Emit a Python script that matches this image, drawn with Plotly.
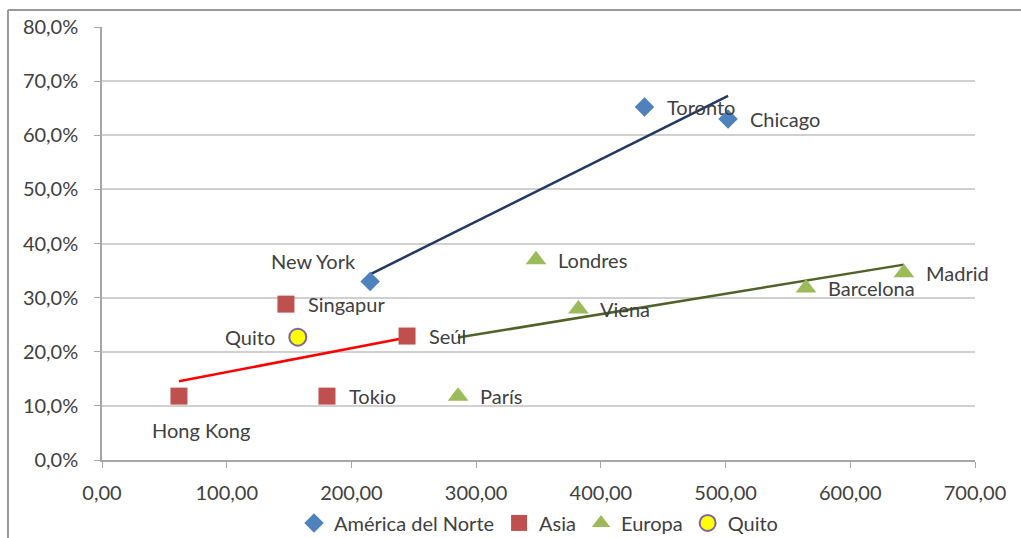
import numpy as np
import plotly.graph_objects as go

# ---- data ----
na_cities = ["New York", "Toronto", "Chicago"]
na_x = [215, 435, 502]
na_y = [0.33, 0.652, 0.63]

asia_cities = ["Hong Kong", "Singapur", "Tokio", "Seúl"]
asia_x = [61.7, 147.5, 180.4, 244.6]
asia_y = [0.118, 0.288, 0.118, 0.229]

eu_cities = ["París", "Londres", "Viena", "Barcelona", "Madrid"]
eu_x = [285.5, 348, 382, 564.5, 643]
eu_y = [0.118, 0.37, 0.279, 0.318, 0.346]

quito_city = ["Quito"]
quito_x = [157]
quito_y = [0.227]

x_ticks = [0, 100, 200, 300, 400, 500, 600, 700]
y_ticks = [0, 0.1, 0.2, 0.3, 0.4, 0.5, 0.6, 0.7, 0.8]

FONT = "Lato"
FS = 20
TXT = dict(family=FONT, size=FS, color="#404040")

fig = go.Figure()


def trend(xs, ys, color, width):
    m, b = np.polyfit(xs, ys, 1)
    xx = [min(xs), max(xs)]
    fig.add_trace(go.Scatter(x=xx, y=[m * v + b for v in xx], mode="lines",
                             line=dict(color=color, width=width),
                             showlegend=False, hoverinfo="skip"))


trend(na_x, na_y, "#1F3864", 2.5)
trend(asia_x, asia_y, "#FF0000", 2.5)
trend(eu_x, eu_y, "#4F6228", 2.5)

fig.add_trace(go.Scatter(
    x=na_x, y=na_y, mode="markers", name="América del Norte",
    marker=dict(symbol="diamond", size=15, color="#4F81BD")))
fig.add_trace(go.Scatter(
    x=asia_x, y=asia_y, mode="markers", name="Asia",
    marker=dict(symbol="square", size=17, color="#C0504D")))
fig.add_trace(go.Scatter(
    x=eu_x, y=eu_y, mode="markers", name="Europa",
    marker=dict(symbol="triangle-up", size=18, color="#9BBB59")))
fig.add_trace(go.Scatter(
    x=quito_x, y=quito_y, mode="markers", name="Quito",
    marker=dict(symbol="circle", size=17, color="#FFFF00",
                line=dict(color="#8064A2", width=2))))

# data labels placed relative to their points
special = {
    "New York": dict(xanchor="right", yanchor="middle", xshift=-12, yshift=20),
    "Hong Kong": dict(xanchor="center", yanchor="middle", xshift=22, yshift=-34),
    "Quito": dict(xanchor="right", yanchor="middle", xshift=-21, yshift=0),
}
annotations = []
for names, xs, ys in [(na_cities, na_x, na_y), (asia_cities, asia_x, asia_y),
                      (eu_cities, eu_x, eu_y), (quito_city, quito_x, quito_y)]:
    for n, xv, yv in zip(names, xs, ys):
        pos = special.get(n, dict(xanchor="left", yanchor="middle", xshift=20, yshift=0))
        annotations.append(dict(x=xv, y=yv, xref="x", yref="y", text=n,
                                showarrow=False, font=TXT, **pos))

fig.update_layout(
    width=1021, height=538,
    margin=dict(l=102, r=46, t=27, b=78, autoexpand=False),
    paper_bgcolor="white", plot_bgcolor="white",
    separators=",.",
    font=dict(family=FONT, size=FS, color="#404040"),
    showlegend=True,
    legend=dict(orientation="h", x=0.5, xanchor="center",
                yref="container", y=0.028, yanchor="middle",
                font=dict(family=FONT, size=FS, color="#404040"),
                itemwidth=30, tracegroupgap=0),
    xaxis=dict(range=[0, 700], tickvals=x_ticks, tickformat=".2f",
               automargin=False,
               showgrid=False, zeroline=False, showline=True,
               linecolor="#A6A6A6", linewidth=1.5,
               ticks="outside", ticklen=6, tickcolor="#A6A6A6",
               ticklabelstandoff=8,
               tickfont=dict(family=FONT, size=FS, color="#404040")),
    yaxis=dict(range=[0, 0.8], tickvals=y_ticks, tickformat=".1%",
               automargin=False,
               showgrid=True, gridcolor="#D0D0D0", gridwidth=1.5,
               zeroline=False, showline=True,
               linecolor="#A6A6A6", linewidth=1.5,
               ticks="outside", ticklen=6, tickcolor="#A6A6A6",
               ticklabelstandoff=12,
               tickfont=dict(family=FONT, size=FS, color="#404040")),
    annotations=annotations,
    shapes=[
        dict(type="line", xref="paper", yref="paper",
             x0=-0.1077, x1=1.06, y0=1.0393, y1=1.0393,
             line=dict(color="#9A9A9A", width=2)),
        dict(type="line", xref="paper", yref="paper",
             x0=-0.1077, x1=-0.1077, y0=1.0393, y1=-0.2,
             line=dict(color="#9A9A9A", width=2)),
    ],
)

fig.write_html("out.html")
